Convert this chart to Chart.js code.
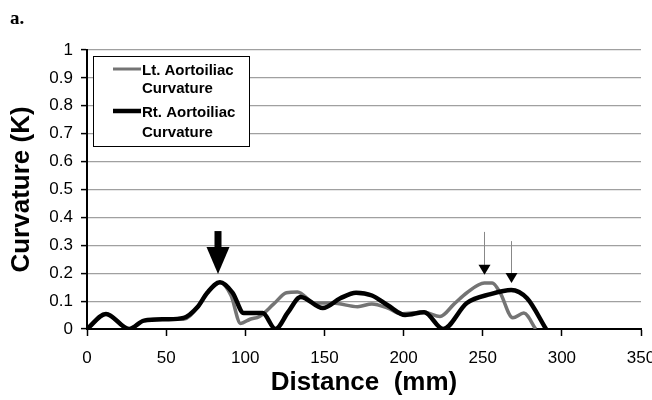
<!DOCTYPE html>
<html>
<head>
<meta charset="utf-8">
<script src="https://cdn.jsdelivr.net/npm/chart.js@4/dist/chart.umd.min.js"></script>
<style>
  body { margin: 0; background: #fff; }
  #wrap { width: 652px; height: 400px; position: relative; }
</style>
</head>
<body>
<div id="wrap"><canvas id="curv" width="652" height="400"></canvas></div>
<script>
// Curvature along aortoiliac centreline, left vs right

const seriesNames = [["Lt. Aortoiliac", "Curvature"], ["Rt. Aortoiliac", "Curvature"]];
const seriesColors = ["#747474", "#000000"];

const ltDistance = [0, 12, 26.6, 36, 50, 61, 70, 76, 84, 91, 97, 103, 109, 118, 126, 133, 144, 155, 171, 180, 190, 198, 213, 223, 232, 240, 251, 256, 261, 269, 276, 283.5];
const ltCurvature = [0, 0.054, 0, 0.03, 0.035, 0.035, 0.08, 0.13, 0.168, 0.12, 0.02, 0.035, 0.045, 0.09, 0.13, 0.133, 0.093, 0.093, 0.08, 0.09, 0.075, 0.055, 0.06, 0.045, 0.09, 0.13, 0.165, 0.165, 0.13, 0.04, 0.057, 0];

const rtDistance = [0, 12, 26.6, 36, 50, 61, 70, 76, 84, 92, 99, 111, 119, 127, 135, 149, 160, 170, 180, 190, 201, 213, 225, 240, 255, 268, 278, 290];
const rtCurvature = [0, 0.054, 0, 0.03, 0.035, 0.04, 0.08, 0.13, 0.168, 0.13, 0.057, 0.057, 0, 0.06, 0.115, 0.075, 0.11, 0.13, 0.12, 0.085, 0.05, 0.06, 0, 0.093, 0.125, 0.14, 0.11, 0];

const yTickLabels = ["0", "0.1", "0.2", "0.3", "0.4", "0.5", "0.6", "0.7", "0.8", "0.9", "1"];

// arrows marking peaks: x position, top and tip in curvature units
const arrowX = [83, 251, 268];
const arrowTop = [0.351, 0.348, 0.315];
const arrowTip = [0.197, 0.194, 0.165];
const arrowBig = [true, false, false];

function toPoints(xs, ys) {
    return xs.map((x, i) => ({ x: x, y: ys[i] }));
}

const overlay = {
    id: 'overlay',
    afterDatasetsDraw(chart) {
        const ctx = chart.ctx;
        const xs = chart.scales.x, ys = chart.scales.y;
        ctx.save();
        arrowX.forEach((ax, i) => {
            const px = Math.round(xs.getPixelForValue(ax));
            const top = ys.getPixelForValue(arrowTop[i]);
            const tip = ys.getPixelForValue(arrowTip[i]);
            if (arrowBig[i]) {
                const headLen = 27, headW = 23, shaft = 7;
                ctx.fillStyle = '#000';
                ctx.fillRect(px - shaft / 2, top, shaft, tip - headLen - top + 1);
                ctx.beginPath();
                ctx.moveTo(px - headW / 2, tip - headLen);
                ctx.lineTo(px + headW / 2, tip - headLen);
                ctx.lineTo(px, tip);
                ctx.closePath();
                ctx.fill();
            } else {
                const headLen = 10, headW = 12;
                ctx.strokeStyle = '#888';
                ctx.lineWidth = 1;
                ctx.beginPath();
                ctx.moveTo(px + 0.5, top);
                ctx.lineTo(px + 0.5, tip - headLen);
                ctx.stroke();
                ctx.fillStyle = '#000';
                ctx.beginPath();
                ctx.moveTo(px + 0.5 - headW / 2, tip - headLen);
                ctx.lineTo(px + 0.5 + headW / 2, tip - headLen);
                ctx.lineTo(px + 0.5, tip);
                ctx.closePath();
                ctx.fill();
            }
        });
        ctx.restore();
    },
    afterDraw(chart) {
        const ctx = chart.ctx;
        const area = chart.chartArea;
        ctx.save();
        // panel letter
        ctx.fillStyle = '#000';
        ctx.font = 'bold 19px "Liberation Serif", "Times New Roman", serif';
        ctx.textBaseline = 'alphabetic';
        ctx.fillText('a.', 10, 24);

        // legend box
        const bx = area.left + 6.5, by = area.top + 6.5, bw = 156, bh = 90;
        ctx.fillStyle = '#fff';
        ctx.fillRect(bx, by, bw, bh);
        ctx.strokeStyle = '#000';
        ctx.lineWidth = 1;
        ctx.strokeRect(bx, by, bw, bh);

        ctx.font = 'bold 15px "Liberation Sans", Arial, sans-serif';
        ctx.textBaseline = 'middle';
        const rowY = [[71, 89], [113, 133]];
        const widths = [3, 4.5];
        seriesNames.forEach((lines, i) => {
            ctx.strokeStyle = seriesColors[i];
            ctx.lineWidth = widths[i];
            ctx.beginPath();
            ctx.moveTo(113, rowY[i][0] - 2);
            ctx.lineTo(141, rowY[i][0] - 2);
            ctx.stroke();
            ctx.fillStyle = '#000';
            lines.forEach((t, j) => ctx.fillText(t, 142, rowY[i][j]));
        });
        ctx.restore();
    }
};

const tickFont = { family: '"Liberation Sans Narrow", "Arial Narrow", "Liberation Sans", Arial, sans-serif', size: 17 };

new Chart(document.getElementById('curv'), {
    type: 'line',
    data: {
        datasets: [
            {
                label: seriesNames[0].join(' '),
                data: toPoints(ltDistance, ltCurvature),
                borderColor: seriesColors[0],
                borderWidth: 3.5,
                pointRadius: 0,
                cubicInterpolationMode: 'monotone',
                fill: false,
                order: 1
            },
            {
                label: seriesNames[1].join(' '),
                data: toPoints(rtDistance, rtCurvature),
                borderColor: seriesColors[1],
                borderWidth: 4.5,
                pointRadius: 0,
                cubicInterpolationMode: 'monotone',
                fill: false,
                order: 0
            }
        ]
    },
    options: {
        responsive: false,
        animation: false,
        layout: { padding: { top: 50, right: 11, left: 0, bottom: 0 } },
        plugins: { legend: { display: false }, tooltip: { enabled: false } },
        scales: {
            x: {
                type: 'linear',
                min: 0,
                max: 350,
                ticks: { stepSize: 50, color: '#000', font: tickFont, padding: 12, maxRotation: 0 },
                grid: { drawOnChartArea: false, tickLength: 7, tickColor: '#000', tickWidth: 1.5 },
                border: { color: '#000', width: 2 },
                title: {
                    display: true,
                    text: 'Distance  (mm)',
                    color: '#000',
                    font: { family: '"Liberation Sans", Arial, sans-serif', size: 26, weight: 'bold', lineHeight: 1.2 },
                    padding: { top: 0, bottom: 2 }
                },
                afterFit(scale) {
                    scale.height = 71;
                    scale.paddingRight = 0;
                    scale.paddingLeft = 0;
                }
            },
            y: {
                min: 0,
                max: 1,
                ticks: {
                    stepSize: 0.1,
                    color: '#000',
                    font: tickFont,
                    padding: 8,
                    callback: (v, i) => yTickLabels[i]
                },
                grid: { color: '#a0a0a0', lineWidth: 1.2, tickLength: 6, tickColor: '#000', tickWidth: 1.5 },
                border: { color: '#000', width: 2 },
                title: {
                    display: true,
                    text: 'Curvature (K)',
                    color: '#000',
                    font: { family: '"Liberation Sans", Arial, sans-serif', size: 26, weight: 'bold', lineHeight: 1.2 },
                    padding: { top: 6, bottom: 0 }
                },
                afterFit(scale) { scale.width = 87; }
            }
        }
    },
    plugins: [overlay]
});
</script>
</body>
</html>
